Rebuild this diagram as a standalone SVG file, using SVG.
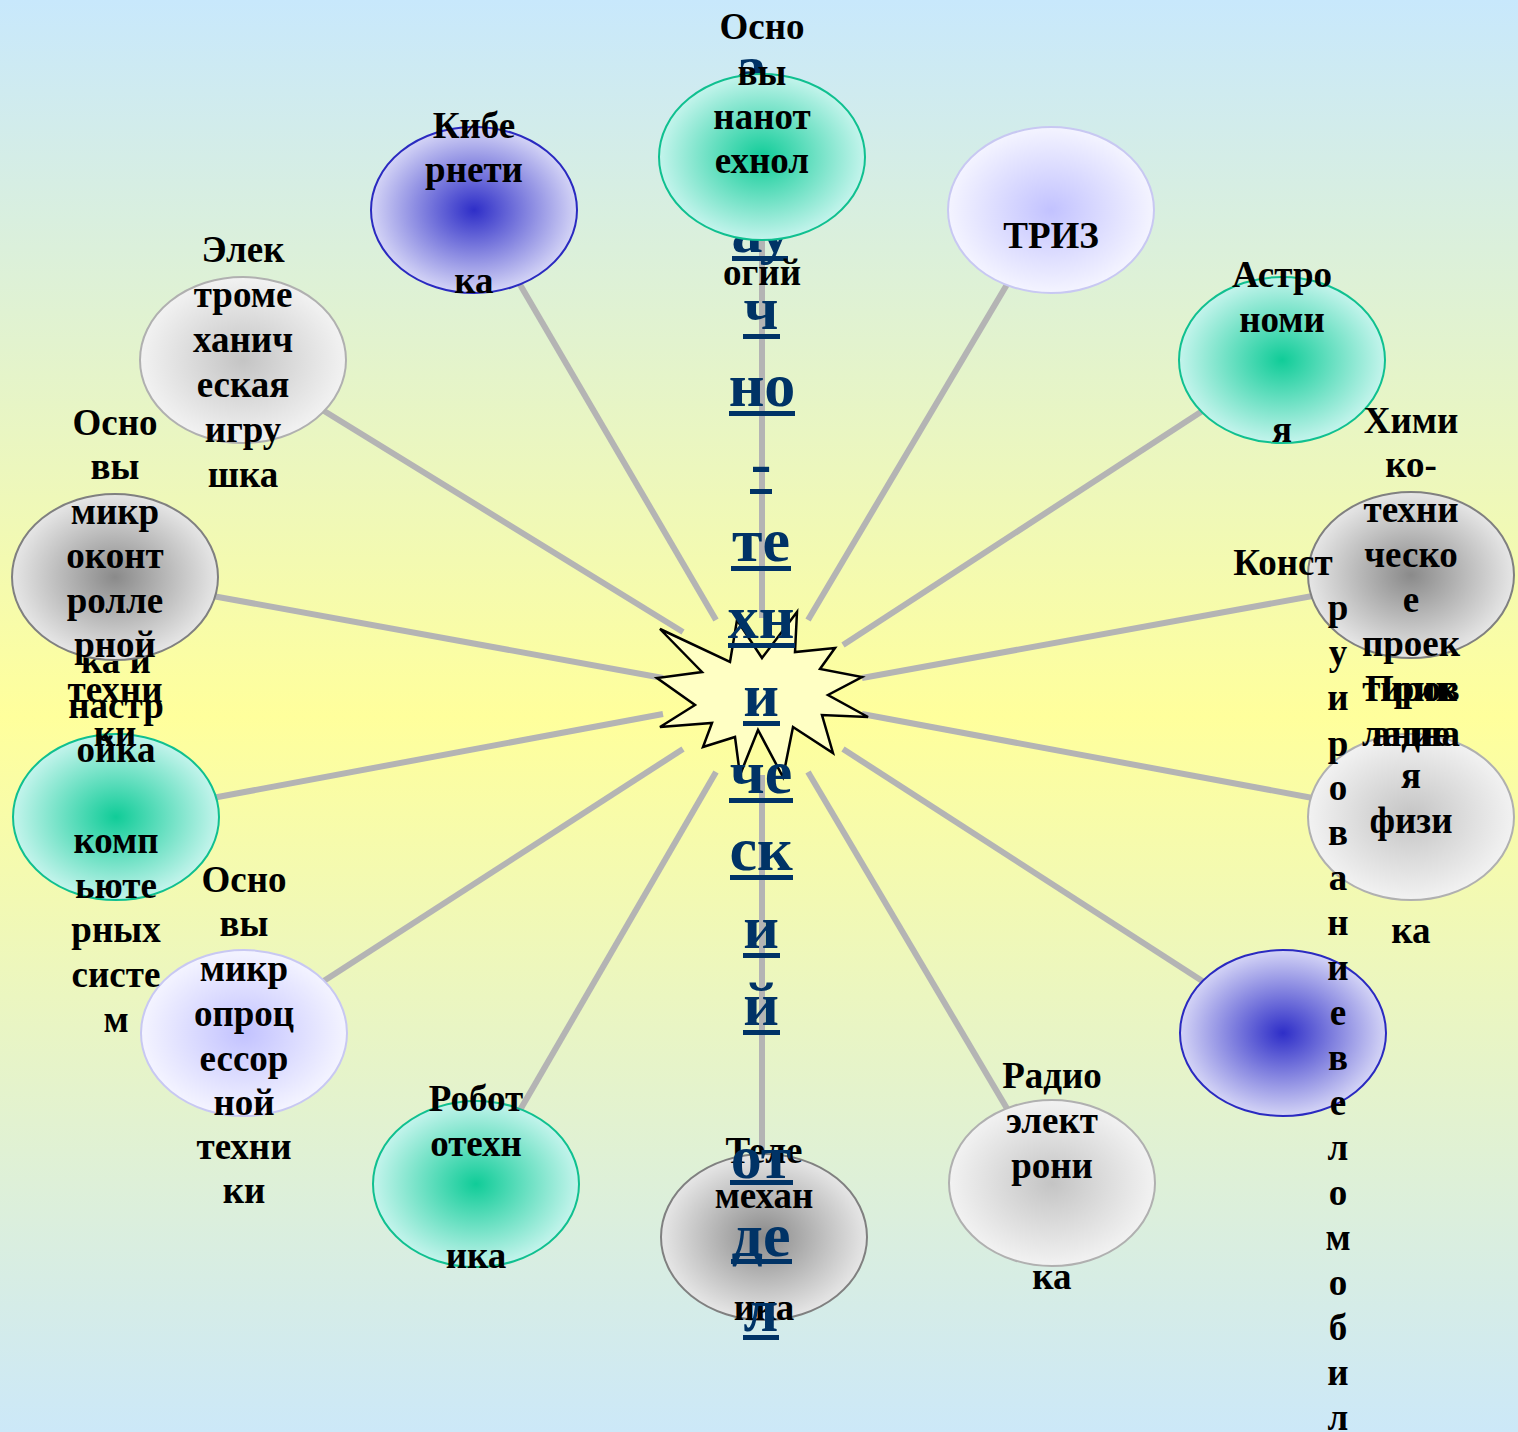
<svg xmlns="http://www.w3.org/2000/svg" width="1518" height="1432" viewBox="0 0 1518 1432">
<defs>
<linearGradient id="bg" x1="0" y1="0" x2="0" y2="1">
<stop offset="0" stop-color="#c8e8fc"/>
<stop offset="0.5" stop-color="#ffff9c"/>
<stop offset="1" stop-color="#cce8f8"/>
</linearGradient>
<radialGradient id="gGreen" cx="0.5" cy="0.5" r="0.5">
<stop offset="0" stop-color="#10cc98"/>
<stop offset="1" stop-color="#c4f4ec"/>
</radialGradient>
<radialGradient id="gBlue" cx="0.5" cy="0.5" r="0.5">
<stop offset="0" stop-color="#2e2ec8"/>
<stop offset="1" stop-color="#d4d4f6"/>
</radialGradient>
<radialGradient id="gLav" cx="0.5" cy="0.5" r="0.5">
<stop offset="0" stop-color="#c2c2ff"/>
<stop offset="1" stop-color="#f4f4ff"/>
</radialGradient>
<radialGradient id="gDark" cx="0.5" cy="0.5" r="0.5">
<stop offset="0" stop-color="#8a8a8a"/>
<stop offset="1" stop-color="#e6e6e6"/>
</radialGradient>
<radialGradient id="gLight" cx="0.5" cy="0.5" r="0.5">
<stop offset="0" stop-color="#c4c4c4"/>
<stop offset="1" stop-color="#f2f2f2"/>
</radialGradient>
<style>
.t{font-family:"Liberation Serif","Times New Roman",serif;font-weight:bold;font-size:37px;text-anchor:middle;fill:#000}
.b{font-family:"Liberation Serif","Times New Roman",serif;font-weight:bold;font-size:62px;text-anchor:middle;fill:#003366}
.u{fill:#003366}
.ln{stroke:#b4b4b4;stroke-width:6;fill:none}
.eG{fill:url(#gGreen);stroke:#10c090;stroke-width:2}
.eB{fill:url(#gBlue);stroke:#2a2ac0;stroke-width:2}
.eL{fill:url(#gLav);stroke:#c8c8f2;stroke-width:2}
.eD{fill:url(#gDark);stroke:#808080;stroke-width:2}
.eW{fill:url(#gLight);stroke:#b0b0b0;stroke-width:2}
</style>
</defs>
<rect x="0" y="0" width="1518" height="1432" fill="url(#bg)"/>

<g id="connectors">
<line class="ln" x1="716" y1="620" x2="515" y2="276"/>
<line class="ln" x1="762" y1="618" x2="762" y2="230"/>
<line class="ln" x1="808" y1="620" x2="1012" y2="276"/>
<line class="ln" x1="843" y1="645" x2="1210" y2="406"/>
<line class="ln" x1="862" y1="678" x2="1318" y2="595"/>
<line class="ln" x1="862" y1="714" x2="1318" y2="799"/>
<line class="ln" x1="843" y1="749" x2="1210" y2="986"/>
<line class="ln" x1="808" y1="772" x2="1012" y2="1117"/>
<line class="ln" x1="762" y1="775" x2="762" y2="1165"/>
<line class="ln" x1="716" y1="772" x2="516" y2="1117"/>
<line class="ln" x1="683" y1="749" x2="316" y2="986"/>
<line class="ln" x1="663" y1="714" x2="207" y2="799"/>
<line class="ln" x1="663" y1="678" x2="207" y2="595"/>
<line class="ln" x1="683" y1="632" x2="316" y2="406"/>
</g>

<g id="center">
<polygon points="660,629 730,662 737,620 762,658 797,612 795,652 835,648 820,669 862,677 828,695 868,717 822,715 833,753 793,727 783,777 758,730 740,775 735,737 703,747 712,723 660,727 695,705 657,678 702,672" fill="#ffffc4" stroke="#000" stroke-width="2.5" stroke-linejoin="miter"/>
</g>

<g id="node-triz">
<ellipse class="eL" cx="1051" cy="210" rx="103" ry="83"/>
<text class="t" x="1051" y="248">ТРИЗ</text>
</g>

<g id="node-astronomiya">
<ellipse class="eG" cx="1282" cy="360" rx="103" ry="83"/>
<text class="t" x="1282" y="287">Астро</text>
<text class="t" x="1282" y="332">номи</text>
<text class="t" x="1282" y="442">я</text>
</g>

<g id="node-prikladnaya-fizika">
<ellipse class="eW" cx="1411" cy="817" rx="103" ry="83"/>
<text class="t" x="1411" y="701">Прик</text>
<text class="t" x="1411" y="746">ладна</text>
<text class="t" x="1411" y="788">я</text>
<text class="t" x="1411" y="833">физи</text>
<text class="t" x="1411" y="943">ка</text>
</g>

<g id="node-khimiko">
<ellipse class="eD" cx="1411" cy="575" rx="103" ry="83"/>
<text class="t" x="1411" y="433">Хими</text>
<text class="t" x="1411" y="477">ко-</text>
<text class="t" x="1411" y="522">техни</text>
<text class="t" x="1411" y="567">ческо</text>
<text class="t" x="1411" y="612">е</text>
<text class="t" x="1411" y="656">проек</text>
<text class="t" x="1411" y="701">тиров</text>
<text class="t" x="1411" y="746">ание</text>
</g>

<g id="node-konstruirovanie">
<ellipse class="eB" cx="1283" cy="1033" rx="103" ry="83"/>
<text class="t" x="1283" y="575">Конст</text>
<text class="t" x="1338" y="620">р</text>
<text class="t" x="1338" y="665">у</text>
<text class="t" x="1338" y="710">и</text>
<text class="t" x="1338" y="756">р</text>
<text class="t" x="1338" y="800">о</text>
<text class="t" x="1338" y="845">в</text>
<text class="t" x="1338" y="890">а</text>
<text class="t" x="1338" y="935">н</text>
<text class="t" x="1338" y="980">и</text>
<text class="t" x="1338" y="1025">е</text>
<text class="t" x="1338" y="1070">в</text>
<text class="t" x="1338" y="1115">е</text>
<text class="t" x="1338" y="1160">л</text>
<text class="t" x="1338" y="1205">о</text>
<text class="t" x="1338" y="1250">м</text>
<text class="t" x="1338" y="1295">о</text>
<text class="t" x="1338" y="1340">б</text>
<text class="t" x="1338" y="1385">и</text>
<text class="t" x="1338" y="1430">л</text>
</g>

<g id="node-radioelektronika">
<ellipse class="eW" cx="1052" cy="1183" rx="103" ry="83"/>
<text class="t" x="1052" y="1088">Радио</text>
<text class="t" x="1052" y="1133">элект</text>
<text class="t" x="1052" y="1178">рони</text>
<text class="t" x="1052" y="1289">ка</text>
</g>

<g id="node-telemekhanika">
<ellipse class="eD" cx="764" cy="1237" rx="103" ry="83"/>
<text class="t" x="764" y="1163">Теле</text>
<text class="t" x="764" y="1208">механ</text>
<text class="t" x="764" y="1320">ика</text>
</g>

<g id="node-robototekhnika">
<ellipse class="eG" cx="476" cy="1184" rx="103" ry="83"/>
<text class="t" x="476" y="1111">Робот</text>
<text class="t" x="476" y="1156">отехн</text>
<text class="t" x="476" y="1268">ика</text>
</g>

<g id="node-mikroprocessor">
<ellipse class="eL" cx="244" cy="1033" rx="103" ry="83"/>
<text class="t" x="244" y="892">Осно</text>
<text class="t" x="244" y="936">вы</text>
<text class="t" x="244" y="981">микр</text>
<text class="t" x="244" y="1026">опроц</text>
<text class="t" x="244" y="1071">ессор</text>
<text class="t" x="244" y="1115">ной</text>
<text class="t" x="244" y="1159">техни</text>
<text class="t" x="244" y="1203">ки</text>
</g>

<g id="node-kompyuternye-sistemy">
<ellipse class="eG" cx="116" cy="817" rx="103" ry="83"/>
<text class="t" x="116" y="673">ка и</text>
<text class="t" x="116" y="718">настр</text>
<text class="t" x="116" y="762">ойка</text>
<text class="t" x="116" y="853">комп</text>
<text class="t" x="116" y="898">ьюте</text>
<text class="t" x="116" y="942">рных</text>
<text class="t" x="116" y="987">систе</text>
<text class="t" x="116" y="1032">м</text>
</g>

<g id="node-mikrokontroller">
<ellipse class="eD" cx="115" cy="577" rx="103" ry="83"/>
<text class="t" x="115" y="435">Осно</text>
<text class="t" x="115" y="479">вы</text>
<text class="t" x="115" y="524">микр</text>
<text class="t" x="115" y="568">оконт</text>
<text class="t" x="115" y="613">ролле</text>
<text class="t" x="115" y="657">рной</text>
<text class="t" x="115" y="702">техни</text>
<text class="t" x="115" y="746">ки</text>
</g>

<g id="node-elektromekh">
<ellipse class="eW" cx="243" cy="360" rx="103" ry="83"/>
<text class="t" x="243" y="262">Элек</text>
<text class="t" x="243" y="307">троме</text>
<text class="t" x="243" y="352">ханич</text>
<text class="t" x="243" y="397">еская</text>
<text class="t" x="243" y="442">игру</text>
<text class="t" x="243" y="487">шка</text>
</g>

<g id="node-kibernetika">
<ellipse class="eB" cx="474" cy="210" rx="103" ry="83"/>
<text class="t" x="474" y="138">Кибе</text>
<text class="t" x="474" y="182">рнети</text>
<text class="t" x="474" y="293">ка</text>
</g>

<g id="title">
<text class="b" x="751" y="88">а</text>
<text class="b" x="761" y="252">ау</text><rect class="u" x="732" y="256" width="56" height="5"/>
<text class="b" x="761" y="329">ч</text><rect class="u" x="743" y="334" width="37" height="5"/>
<text class="b" x="762" y="406">но</text><rect class="u" x="729" y="411" width="66" height="5"/>
<text class="b" x="761" y="484">-</text><rect class="u" x="750" y="489" width="22" height="5"/>
<text class="b" x="761" y="561">те</text><rect class="u" x="731" y="566" width="60" height="5"/>
<text class="b" x="761" y="638">хн</text><rect class="u" x="728" y="643" width="67" height="5"/>
<text class="b" x="761" y="716">и</text><rect class="u" x="743" y="721" width="37" height="5"/>
<text class="b" x="761" y="793">че</text><rect class="u" x="729" y="798" width="64" height="5"/>
<text class="b" x="761" y="870">ск</text><rect class="u" x="730" y="875" width="63" height="5"/>
<text class="b" x="761" y="948">и</text><rect class="u" x="743" y="953" width="37" height="5"/>
<text class="b" x="761" y="1025">й</text><rect class="u" x="743" y="1030" width="37" height="5"/>
<text class="b" x="761" y="1178">от</text><rect class="u" x="730" y="1180" width="63" height="5"/>
<text class="b" x="761" y="1256">де</text><rect class="u" x="731" y="1259" width="61" height="5"/>
<text class="b" x="761" y="1331">л</text><rect class="u" x="743" y="1335" width="36" height="5"/>
</g>

<g id="node-nanotekhnologii">
<ellipse class="eG" cx="762" cy="157" rx="103" ry="83"/>
<text class="t" x="762" y="39">Осно</text>
<text class="t" x="762" y="85">вы</text>
<text class="t" x="762" y="129">нанот</text>
<text class="t" x="762" y="173">ехнол</text>
<text class="t" x="762" y="285">огий</text>
</g>
</svg>
